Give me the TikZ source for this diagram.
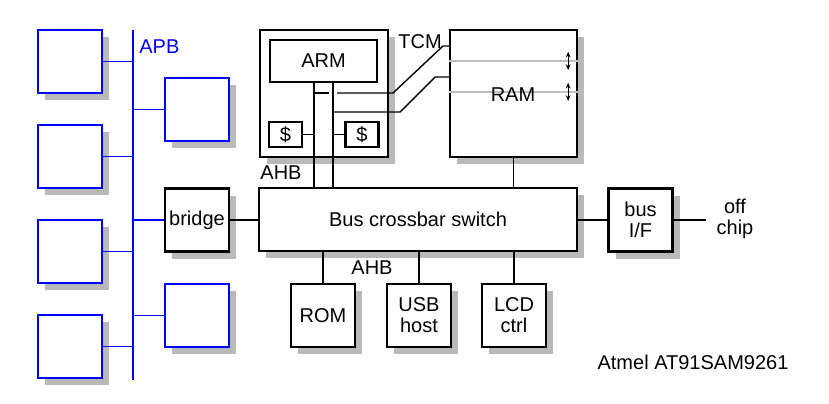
\documentclass[tikz,border=0pt]{standalone}
\usepackage{fontspec}
\setmainfont{Liberation Sans}
\usetikzlibrary{shadows,arrows.meta}

\definecolor{shade}{RGB}{185,185,185}
\definecolor{apbblue}{RGB}{0,0,255}
\definecolor{ramgrey}{RGB}{190,190,190}

\tikzset{
  box/.style={draw=black, line width=1.15pt, fill=white, inner sep=0pt, align=center},
  shadowbox/.style={box, drop shadow={shadow xshift=3.5pt, shadow yshift=-3.5pt, fill=shade, opacity=1}},
  periph/.style={shadowbox, draw=apbblue, minimum width=32pt, minimum height=31.5pt},
  slave/.style={shadowbox, minimum width=32pt, minimum height=31.5pt},
  link/.style={line width=0.7pt},
  apblink/.style={draw=apbblue, line width=0.9pt},
  apbbus/.style={draw=apbblue, line width=1.2pt},
  ramline/.style={draw=ramgrey, line width=0.8pt},
  label/.style={inner sep=1pt, align=center}
}

\begin{document}
\begin{tikzpicture}[x=0.5pt, y=-0.5pt, font=\fontsize{10}{11.5}\selectfont]
        \useasboundingbox (0,0) rectangle (829,403);

        % APB bus
        \coordinate (apbtop) at (133,30);
        \coordinate (apbbot) at (133,380);
        \draw[apbbus] (apbtop) -- (apbbot);
        \node[label, anchor=west, text=apbblue] (apb) at (137,47) {APB};

        % APB peripherals
        \node[periph] (p1) at (70,61.5) {};
        \node[periph] (p2) at (70,156.5) {};
        \node[periph] (p3) at (70,251.5) {};
        \node[periph] (p4) at (70,346.5) {};
        \node[periph] (q1) at (197,109.5) {};
        \node[periph] (q3) at (197,315.5) {};

        % Bridge
        \node[slave] (bridge) at (197,220) {bridge};

        % Bus crossbar switch
        \node[shadowbox, minimum width=159pt, minimum height=31.5pt] (bus) at (418,219.5) {Bus crossbar switch};

        % Bus interface
        \node[slave] (busif) at (640.5,220) {bus\\[-1pt]I/F};
        \node[label, inner sep=0pt] (offchip) at (735,219) {off\\[-1pt]chip};

        % AHB slaves
        \node[slave] (rom) at (323,315.5) {ROM};
        \node[slave] (usb) at (419,315.5) {USB\\[-1pt]host};
        \node[slave] (lcd) at (514,315.5) {LCD\\[-1pt]ctrl};

        % CPU block
        \node[shadowbox, minimum width=64pt, minimum height=63.5pt] (cpu) at (324,93.5) {};
        \node[box, minimum width=53.5pt, minimum height=21pt] (arm) at (323.5,61) {ARM};
        \node[box, minimum width=16.5pt, minimum height=12.5pt] (cacheI) at (285.5,134.5) {\$};
        \node[box, minimum width=16.5pt, minimum height=12.5pt] (cacheD) at (362,134.5) {\$};

        % RAM
        \node[shadowbox, minimum width=63.5pt, minimum height=63.5pt] (ram) at (513.5,93.5) {};
        \draw[ramline] ([yshift=-16pt]ram.north west) -- ([yshift=-16pt]ram.north east);
        \draw[ramline] ([yshift=-31.5pt]ram.north west) -- ([yshift=-31.5pt]ram.north east);
        \node[label] (ramlbl) at (513,95) {RAM};
        \draw[{Stealth[length=2.8pt,width=2.4pt]}-{Stealth[length=2.8pt,width=2.4pt]}, line width=0.6pt]
            ([xshift=-5pt,yshift=-11.5pt]ram.north east) -- ([xshift=-5pt,yshift=-20.5pt]ram.north east);
        \draw[{Stealth[length=2.8pt,width=2.4pt]}-{Stealth[length=2.8pt,width=2.4pt]}, line width=0.6pt]
            ([xshift=-5pt,yshift=-27pt]ram.north east) -- ([xshift=-5pt,yshift=-36pt]ram.north east);

        % Labels
        \node[label] (tcm) at (420,42) {TCM};
        \node[label] (ahbtop) at (281,173) {AHB};
        \node[label] (ahbbot) at (372,268) {AHB};
        \node[label] (chip) at (693,362) {Atmel AT91SAM9261};

        % APB connections
        \foreach \n in {p1,p2,p3,p4}
            \draw[apblink] (\n.east) -- (\n.east -| apbtop);
        \foreach \n in {q1,bridge,q3}
            \draw[apblink] (\n.west) -- (\n.west -| apbtop);

        % AHB connections
        \draw[link] (bridge.east) -- (bus.west |- bridge.east);
        \draw[link] (bus.east |- busif.west) -- (busif.west);
        \draw[link] (busif.east) -- ++(32,0);
        \foreach \n in {rom,usb,lcd}
            \draw[link] (\n.north) -- (\n.north |- bus.south);
        \draw[link] (ram.south) -- (ram.south |- bus.north);

        % ARM buses
        \coordinate (ibus) at (314,82);
        \coordinate (dbus) at (333,82);
        \draw[link] (ibus) -- (ibus |- bus.north);
        \draw[link] (dbus) -- (dbus |- bus.north);
        \draw[link] (cacheI.east) -- (cacheI.east -| ibus);
        \draw[link] (cacheD.west) -- (cacheD.west -| dbus);

        % TCM paths
        \coordinate (itcm) at (314,93);
        \coordinate (dtcm) at (333,112);
        \coordinate (ramA) at (450,46);
        \coordinate (ramB) at (450,77);
        \draw[link] (itcm) -- ++(15,0);
        \draw[link] (337,93) -- ++(56,0) -- ++(50,-47) -- (ramA);
        \draw[link] (dtcm) -- ++(67,0) -- ++(35,-35) -- (ramB);
\end{tikzpicture}
\end{document}
